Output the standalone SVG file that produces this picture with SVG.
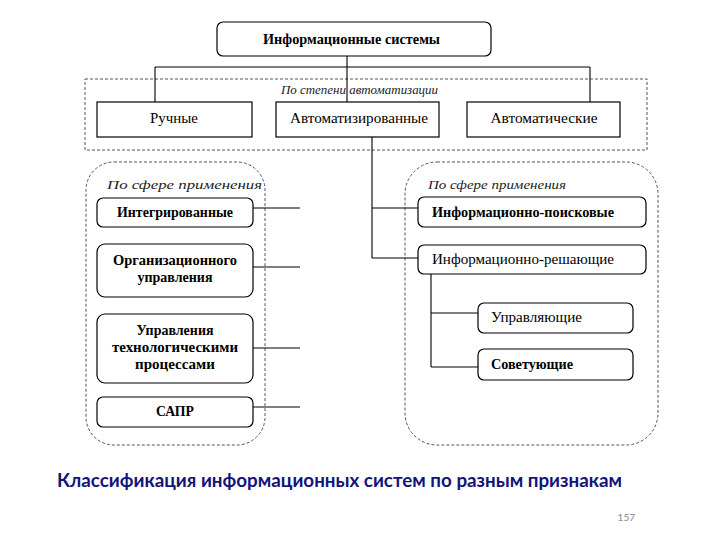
<svg xmlns="http://www.w3.org/2000/svg" width="720" height="540" viewBox="0 0 720 540">
<style>
.box{fill:#fff;stroke:#000;stroke-width:1.2}
.rbox{fill:#fff;stroke:#000;stroke-width:1.2}
.dash{fill:none;stroke:#555;stroke-width:1;stroke-dasharray:3 2}
.ln{fill:none;stroke:#000;stroke-width:1.1}
.t{font-family:"Liberation Serif","Times New Roman",serif;font-size:14px;fill:#000;text-anchor:middle}
.tb{font-weight:bold}
.lab{font-family:"Liberation Serif","Times New Roman",serif;font-size:13px;font-style:italic;fill:#222}
.cap{font-family:Lato,"Open Sans",sans-serif;font-size:18.5px;font-weight:bold;fill:#13137a}
.num{font-family:Lato,"Open Sans",sans-serif;font-size:10px;fill:#888}
</style>
<rect width="720" height="540" fill="#fff"/>
<g id="group-auto">
<rect class="dash" x="85" y="79" width="562" height="71"/>
<text class="lab" x="359.5" y="94" text-anchor="middle" textLength="157" lengthAdjust="spacingAndGlyphs">По степени автоматизации</text>
</g>
<g id="group-left">
<rect class="dash" x="86" y="162" width="179" height="283" rx="28"/>
<text class="lab" x="107" y="189" textLength="155" lengthAdjust="spacingAndGlyphs">По сфере применения</text>
</g>
<g id="group-right">
<rect class="dash" x="405" y="162" width="253" height="283" rx="32"/>
<text class="lab" x="428" y="189" textLength="138" lengthAdjust="spacingAndGlyphs">По сфере применения</text>
</g>
<g id="connectors">
<path class="ln" d="M347 56V102M155 67H590M155 67V102M590 67V102"/>
<path class="ln" d="M372 137V258M372 208H418M372 258H418"/>
<path class="ln" d="M253 208H300M253 267H300M253 348H300M253 407H300"/>
<path class="ln" d="M431 274V367M431 313H478M431 367H478"/>
</g>
<g id="n-is"><rect class="rbox" x="217" y="22" width="274" height="34" rx="6"/><text class="t tb" x="351.5" y="44" textLength="177" lengthAdjust="spacingAndGlyphs">Информационные системы</text></g>
<g id="n-manual"><rect class="box" x="97" y="102" width="155" height="35"/><text class="t" x="174" y="123" textLength="48" lengthAdjust="spacingAndGlyphs">Ручные</text></g>
<g id="n-automated"><rect class="box" x="276" y="102" width="163" height="35"/><text class="t" x="359" y="123" textLength="138" lengthAdjust="spacingAndGlyphs">Автоматизированные</text></g>
<g id="n-automatic"><rect class="box" x="467" y="102" width="153" height="35"/><text class="t" x="544" y="123" textLength="107" lengthAdjust="spacingAndGlyphs">Автоматические</text></g>
<g id="n-integrated"><rect class="rbox" x="97" y="198" width="156" height="29" rx="6"/><text class="t tb" x="175" y="217" textLength="116" lengthAdjust="spacingAndGlyphs">Интегрированные</text></g>
<g id="n-org"><rect class="rbox" x="97" y="244" width="156" height="53" rx="8"/><text class="t tb" x="175" y="265" textLength="124" lengthAdjust="spacingAndGlyphs">Организационного</text><text class="t tb" x="175" y="282" textLength="75" lengthAdjust="spacingAndGlyphs">управления</text></g>
<g id="n-tech"><rect class="rbox" x="97" y="314" width="156" height="69" rx="8"/><text class="t tb" x="175" y="335" textLength="77" lengthAdjust="spacingAndGlyphs">Управления</text><text class="t tb" x="175" y="352" textLength="126" lengthAdjust="spacingAndGlyphs">технологическими</text><text class="t tb" x="175" y="369" textLength="80" lengthAdjust="spacingAndGlyphs">процессами</text></g>
<g id="n-sapr"><rect class="rbox" x="97" y="397" width="156" height="30" rx="6"/><text class="t tb" x="175" y="416" textLength="38" lengthAdjust="spacingAndGlyphs">САПР</text></g>
<g id="n-search"><rect class="rbox" x="418" y="197" width="228" height="30" rx="6"/><text class="t tb" x="523" y="217" textLength="182" lengthAdjust="spacingAndGlyphs">Информационно-поисковые</text></g>
<g id="n-decide"><rect class="rbox" x="418" y="245" width="228" height="29" rx="6"/><text class="t" x="523" y="264" textLength="182" lengthAdjust="spacingAndGlyphs">Информационно-решающие</text></g>
<g id="n-control"><rect class="rbox" x="478" y="303" width="155" height="30" rx="6"/><text class="t" x="536.5" y="322" textLength="91" lengthAdjust="spacingAndGlyphs">Управляющие</text></g>
<g id="n-advise"><rect class="rbox" x="478" y="349" width="155" height="31" rx="6"/><text class="t tb" x="532" y="369" textLength="82" lengthAdjust="spacingAndGlyphs">Советующие</text></g>
<text class="cap" x="57" y="487" textLength="565" lengthAdjust="spacingAndGlyphs">Классификация информационных систем по разным признакам</text>
<text class="num" x="635" y="521" text-anchor="end">157</text>
</svg>
